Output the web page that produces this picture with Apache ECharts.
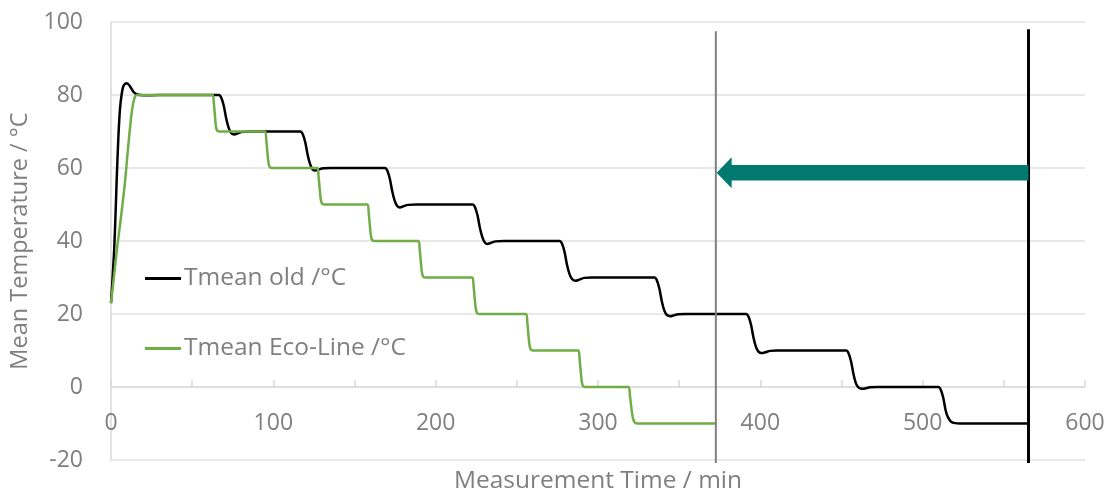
<!DOCTYPE html>
<html>
<head>
<meta charset="utf-8">
<script src="https://cdn.jsdelivr.net/npm/echarts@6/dist/echarts.min.js"></script>
<style>
html,body{margin:0;padding:0;background:#fff;}
#chart{width:1107px;height:492px;}
</style>
</head>
<body>
<div id="chart"></div>
<script>
// Tick labels / axis ranges
var xTicks = [0, 100, 200, 300, 400, 500, 600];
var yTicks = [-20, 0, 20, 40, 60, 80, 100];

// Series names
var seriesNames = ['Tmean old /°C', 'Tmean Eco-Line /°C'];

// Tmean old (time min, temperature °C)
var tmeanOld = [
  [0,23],[1,30],[2,38],[3,50],[3.5,56.7],[4.5,68],[5.5,76],[6.5,80],[7.5,82.3],[8.5,83],[9.7,83.2],[11,82.8],[12.5,81.8],[14,80.8],[15.8,80.2],[20,79.9],[30,80],[66.5,80],
  [68,79.2],[69.5,77],[71,73.5],[72.5,71],[74,69.6],[76,69.2],[78,69.5],[81,69.9],[86,70],[116.7,70],
  [118.2,69.2],[119.7,67],[121.2,63.5],[122.7,61],[124.2,59.6],[126,59.3],[128,59.6],[131,59.9],[136,60],[168.8,60],
  [170.3,59.2],[171.8,57],[173.3,53.5],[174.8,51],[176.3,49.6],[178,49.2],[180,49.5],[183,49.9],[188,50],[222.8,50],
  [224.3,49.2],[225.8,47],[227.3,43.5],[228.8,41],[230.3,39.6],[232,39.2],[234,39.5],[237,39.9],[242,40],[276.4,40],
  [277.9,39.2],[279.4,37],[280.9,33.5],[282.4,31],[284,29.6],[286.2,29.1],[288.5,29.4],[291.5,29.9],[296,30],[334.8,30],
  [336.3,29.2],[337.8,27],[339.3,23.5],[340.8,21],[342.3,19.8],[344.5,19.4],[346.5,19.6],[349.5,19.9],[354,20],[391.3,20],
  [392.8,19.2],[394.3,17],[395.8,13.5],[397.3,11],[398.8,9.7],[400.9,9.3],[403,9.5],[406,9.9],[410,10],[452.9,10],
  [454.4,9.2],[455.9,7],[457.4,3.5],[458.9,1],[460.4,-0.1],[462.5,-0.5],[464.5,-0.4],[467.5,-0.1],[472,0],[509.7,0],
  [511.2,-0.8],[512.7,-3],[514.2,-6.5],[515.7,-8.4],[517.5,-9.5],[520,-9.9],[523,-10],[565,-10]
];

// Tmean Eco-Line (time min, temperature °C)
var tmeanEco = [
  [0,23],[2,31],[4,39],[6,46],[8.6,56],[10,63],[11.7,71],[13,76],[14.5,79.2],[15.8,80],[20,80],[62.6,80],
  [63.3,78],[64,74.5],[64.6,71.5],[65.3,70.3],[66.5,70],[94.9,70],
  [95.6,68],[96.3,64.5],[97,61.5],[97.7,60.3],[99,60],[127.1,60],
  [127.8,58],[128.5,54.5],[129.2,51.5],[129.9,50.3],[131.2,50],[158,50],
  [158.7,48],[159.4,44.5],[160.1,41.5],[160.8,40.3],[162.1,40],[189.4,40],
  [190.1,38],[190.8,34.5],[191.5,31.5],[192.2,30.3],[193.5,30],[222.6,30],
  [223.3,28],[224,24.5],[224.7,21.5],[225.4,20.3],[226.7,20],[255.7,20],
  [256.4,18],[257.1,14.5],[257.8,11.5],[258.5,10.3],[259.8,10],[287.9,10],
  [288.6,8],[289.3,4.5],[290,1.5],[290.7,0.3],[292,0],[318.8,0],
  [319.6,-2],[320.5,-5.5],[321.5,-8.5],[322.6,-9.7],[324.5,-10],[372.8,-10]
];

// Vertical marker lines (time, bottom, top)
var markerGrey = [[372.6,-20.8],[372.6,97.5]];
var markerBlack = [[565.2,-20.8],[565.2,98]];

// Arrow: [tailTime, tipTime, temperature]
var arrowData = [[565.2, 373.1, 58.7]];

var font = '"Open Sans", sans-serif';
var grey = '#7f7f7f';
var fs = 23;

var chart = echarts.init(document.getElementById('chart'), null, {renderer: 'canvas'});
chart.setOption({
  animation: false,
  backgroundColor: '#ffffff',
  grid: {left: 111, right: 22, top: 22, bottom: 32, containLabel: false, outerBoundsMode: 'none'},
  legend: {
    data: [
      {name: seriesNames[0], icon: 'rect', itemStyle: {color: '#000000'}},
      {name: seriesNames[1], icon: 'rect', itemStyle: {color: '#70ad47'}}
    ],
    orient: 'vertical',
    left: 145,
    top: 266,
    padding: 0,
    itemWidth: 36,
    itemHeight: 3,
    itemGap: 45,
    selectedMode: false,
    textStyle: {fontFamily: font, fontSize: 24.5, color: grey, lineHeight: 24, padding: [0,0,0,-2]}
  },
  xAxis: {
    type: 'value',
    min: xTicks[0],
    max: xTicks[xTicks.length - 1],
    interval: 100,
    name: 'Measurement Time / min',
    nameLocation: 'middle',
    nameGap: 9,
    nameTextStyle: {fontFamily: font, fontSize: 24.5, color: grey},
    axisLine: {show: true, onZero: true, lineStyle: {color: '#d9d9d9', width: 1.5}},
    axisTick: {show: true, inside: true, length: 7, lineStyle: {color: '#d9d9d9', width: 1.5}},
    minorTick: {show: true, splitNumber: 2, length: 7, lineStyle: {color: '#d9d9d9', width: 1.5}},
    axisLabel: {fontFamily: font, fontSize: fs, color: grey, margin: -48},
    splitLine: {show: false}
  },
  yAxis: {
    type: 'value',
    min: yTicks[0],
    max: yTicks[yTicks.length - 1],
    interval: 20,
    name: 'Mean Temperature / °C',
    nameLocation: 'middle',
    nameGap: 74,
    nameTextStyle: {fontFamily: font, fontSize: 23.5, color: grey},
    axisLine: {show: true, lineStyle: {color: '#d9d9d9', width: 1.5}},
    axisTick: {show: false},
    axisLabel: {fontFamily: font, fontSize: fs, color: grey, margin: 28},
    splitLine: {show: true, lineStyle: {color: '#e0e0e0', width: 1.5}}
  },
  series: [
    {
      name: seriesNames[0], type: 'line', data: tmeanOld, showSymbol: false, symbol: 'none',
      smooth: 0.3, lineStyle: {color: '#000000', width: 2.5}, itemStyle: {color: '#000000'}, z: 4
    },
    {
      name: seriesNames[1], type: 'line', data: tmeanEco, showSymbol: false, symbol: 'none',
      smooth: 0.2, lineStyle: {color: '#70ad47', width: 2.5}, itemStyle: {color: '#70ad47'}, z: 5
    },
    {
      name: 'markerGrey', type: 'line', data: markerGrey, showSymbol: false, symbol: 'none', clip: false,
      lineStyle: {color: '#808080', width: 2}, z: 6
    },
    {
      name: 'markerBlack', type: 'line', data: markerBlack, showSymbol: false, symbol: 'none', clip: false,
      lineStyle: {color: '#000000', width: 3}, z: 6
    },
    {
      name: 'arrow', type: 'custom', clip: false, z: 7,
      data: arrowData,
      renderItem: function (params, api) {
        var tail = api.coord([api.value(0), api.value(2)]);
        var tip = api.coord([api.value(1), api.value(2)]);
        var headLen = 15, headHalf = 15.5, shaftHalf = 7.8;
        var bx = tip[0] + headLen, cy = tip[1];
        return {
          type: 'polygon',
          shape: {points: [
            [tip[0], cy], [bx, cy - headHalf], [bx, cy - shaftHalf], [tail[0], cy - shaftHalf],
            [tail[0], cy + shaftHalf], [bx, cy + shaftHalf], [bx, cy + headHalf]
          ]},
          style: {fill: '#007a70'}
        };
      }
    }
  ]
});
</script>
</body>
</html>
